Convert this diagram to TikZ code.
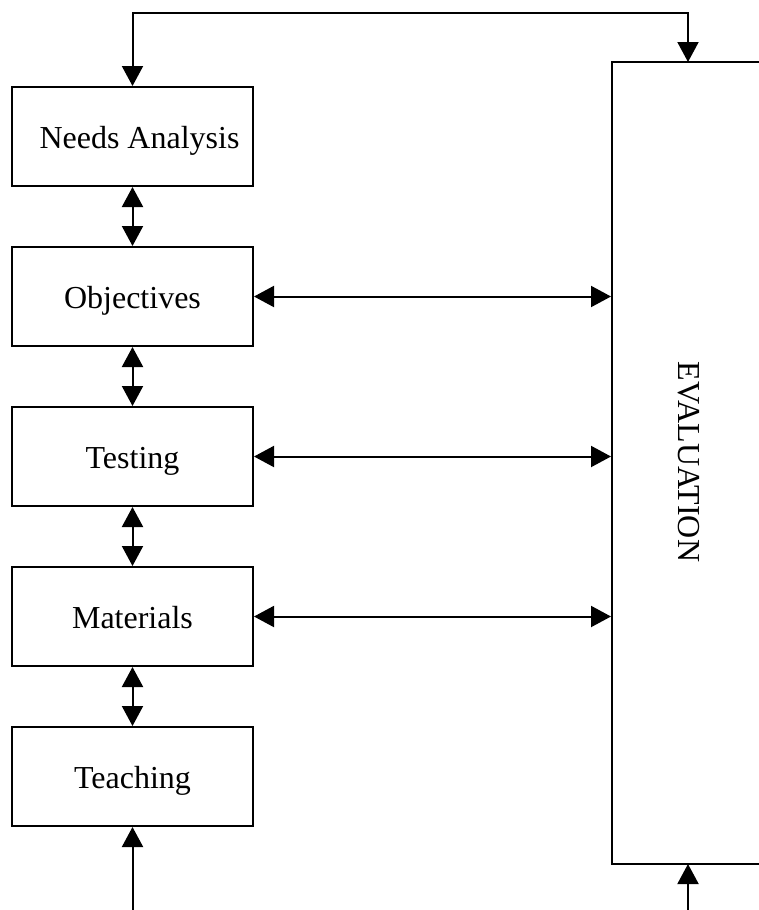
\documentclass[tikz,border=0pt]{standalone}
\usepackage{fontspec}
\setmainfont{Liberation Serif}
\usetikzlibrary{arrows.meta}
\begin{document}
\begin{tikzpicture}[x=1pt,y=-1pt,
  box/.style={draw, line width=2pt, minimum width=241pt, minimum height=99pt, inner sep=0pt, text height=23pt, text depth=0pt, font=\fontsize{32}{38}\selectfont},
  conn/.style={line width=2pt, -{Triangle[length=20pt,width=21pt]}},
  dconn/.style={line width=2pt, {Triangle[length=20pt,width=21pt]}-{Triangle[length=20pt,width=21pt]}},
  evaltext/.style={rotate=-90, inner sep=0pt, font=\fontsize{32}{38}\selectfont}]
\useasboundingbox (0,0) rectangle (759,910);
\clip (0,0) rectangle (759,910);
\node[box] (needs) at (132.5,136.5) {\hspace*{14pt}Needs Analysis};
\node[box] (obj) at (132.5,296.5) {Objectives};
\node[box] (test) at (132.5,456.5) {Testing};
\node[box] (mat) at (132.5,616.5) {Materials};
\node[box] (teach) at (132.5,776.5) {Teaching};
\node[draw, line width=2pt, minimum width=168pt, minimum height=802pt, inner sep=0pt] (eval) at (696,463) {};
\node[evaltext] (evallabel) at (689,462) {EVALUATION};
\coordinate (top) at (0,13);
\coordinate (et) at (688,62);
\coordinate (eb) at (688,864);
\coordinate (b1) at (132.5,910);
\coordinate (b2) at (688,910);
\draw[dconn] (needs.north) -- (needs.north |- top) -| (et);
\draw[dconn] (needs.south) -- (obj.north);
\draw[dconn] (obj.south) -- (test.north);
\draw[dconn] (test.south) -- (mat.north);
\draw[dconn] (mat.south) -- (teach.north);
\draw[dconn] (obj.east) -- (obj.east -| eval.west);
\draw[dconn] (test.east) -- (test.east -| eval.west);
\draw[dconn] (mat.east) -- (mat.east -| eval.west);
\draw[conn] (b1) -- (teach.south);
\draw[conn] (b2) -- (eb);
\end{tikzpicture}
\end{document}
